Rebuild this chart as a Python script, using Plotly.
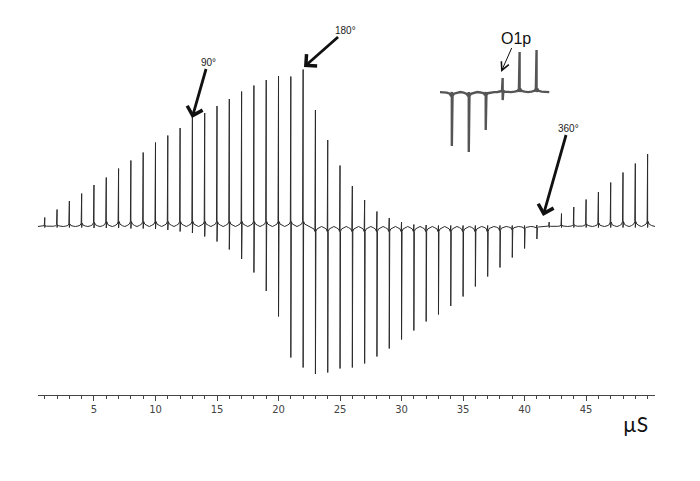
import plotly.graph_objects as go

# ---- data ----
pulse_us = list(range(1, 51))
peak_up = [9, 17, 25.5, 33, 41.5, 49, 58, 66, 74, 84, 91, 98.5, 109.5, 113.5, 120.5,
           127.5, 135, 141, 146.5, 150.5, 150, 157, 116.5, 86.5, 61, 40.5, 26.5, 15,
           8.5, 4.5, 2, 1.5, 1, 1, 1, 1, 1, 1, 1, 1, 1.5, 4.5, 13, 19.5, 27, 34.5,
           44, 54, 63, 72.5]
peak_down = [1, 1, 1, 1, 1.5, 1.5, 1.5, 2, 2, 2.5, 3.5, 5, 6.5, 10, 15, 23, 32.5, 46,
             64.5, 90, 131, 141, 147.5, 146, 142, 141, 137, 130, 122, 113, 104, 95,
             88, 79.5, 70, 60, 50, 41, 31, 22, 12.5, 1, 1, 1, 1, 1, 1, 1, 1, 1]

# inset (expanded region around O1p)
inset_idx = [0, 1, 2, 3, 4, 5]
inset_up = [0, 0, 0, 14, 40, 42]
inset_down = [54, 60, 38, 8, 0, 0]

tick_values = [5, 10, 15, 20, 25, 30, 35, 40, 45, 50]
tick_labels = ["5", "10", "15", "20", "25", "30", "35", "40", "45", ""]


def trace_points(xs, ups, downs, start, end, foot=(0.3, 0.12, 0.04), frac=(0.015, 0.04, 0.1), cap=(1.2, 2.5, 5)):
    """Build a spectrum polyline: each line is a spike with small base feet."""
    X, Y = [start], [0]
    for i, (n, u, d) in enumerate(zip(xs, ups, downs)):
        amp = max(u, d)
        s = 1 if u >= d else -1
        left = [(n - foot[k], s * min(frac[k] * amp, cap[k])) for k in range(3)]
        right = [(n + foot[k], s * min(frac[k] * amp, cap[k])) for k in reversed(range(3))]
        for px, py in left:
            X.append(px); Y.append(py)
        X += [n, n]; Y += [u, -d]
        for px, py in right:
            X.append(px); Y.append(py)
        if i < len(xs) - 1:
            X.append((n + xs[i + 1]) / 2); Y.append(0)
    X.append(end); Y.append(0)
    return X, Y


mx, my = trace_points(pulse_us, peak_up, peak_down, 0.45, 50.6)
ix, iy = trace_points(inset_idx, inset_up, inset_down, -0.7, 5.75,
                      foot=(0.3, 0.12, 0.04), frac=(0.01, 0.03, 0.08), cap=(1, 2, 4))

fig = go.Figure()
fig.add_trace(go.Scatter(x=mx, y=my, mode="lines",
                         line=dict(color="#2a2a2a", width=1), hoverinfo="skip"))
fig.add_trace(go.Scatter(x=ix, y=iy, mode="lines", xaxis="x2", yaxis="y2",
                         line=dict(color="#555555", width=2.4), hoverinfo="skip"))

arrow = dict(showarrow=True, arrowhead=4, arrowsize=1.1, arrowwidth=2.8,
             arrowcolor="#111", font=dict(family="Liberation Sans", size=10, color="#222"))
fig.add_annotation(x=12.97, y=108.5, text="90°", ax=16, ay=-56, **arrow)
fig.add_annotation(x=22.07, y=159.5, text="180°", ax=42, ay=-37, **arrow)
fig.add_annotation(x=41.5, y=10.5, text="360°", ax=25, ay=-88, **arrow)
fig.add_annotation(x=38.09, y=154.5, text="O1p", ax=15, ay=-34, showarrow=True,
                   arrowhead=5, arrowsize=1.6, arrowwidth=1, arrowcolor="#111",
                   font=dict(family="Liberation Sans", size=16, color="#111"))
fig.add_annotation(xref="paper", yref="paper", x=0.969, y=-0.075, text="µS",
                   showarrow=False, xanchor="center", yanchor="middle",
                   font=dict(family="Lato", size=21, color="#111"))

fig.update_layout(
    width=700, height=481,
    margin=dict(l=30, r=53, t=12, b=94),
    paper_bgcolor="white", plot_bgcolor="white",
    showlegend=False,
    xaxis=dict(range=[0.45, 50.6], showline=True, linecolor="#444", linewidth=1,
               ticks="outside", ticklen=5, tickcolor="#444", tickwidth=1,
               tickmode="array", tickvals=tick_values, ticktext=tick_labels,
               tickfont=dict(family="DejaVu Sans", size=10, color="#444"),
               minor=dict(tickmode="array", tickvals=pulse_us, ticks="outside",
                          ticklen=3, tickcolor="#444", showgrid=False),
               showgrid=False, zeroline=False),
    yaxis=dict(range=[-168.5, 206.5], visible=False),
    xaxis2=dict(domain=[0.6515, 0.830], anchor="y2", range=[-0.7, 5.8], visible=False),
    yaxis2=dict(domain=[0.64, 0.933], anchor="x2", range=[-63, 47], visible=False),
)

fig.write_html("out.html")
